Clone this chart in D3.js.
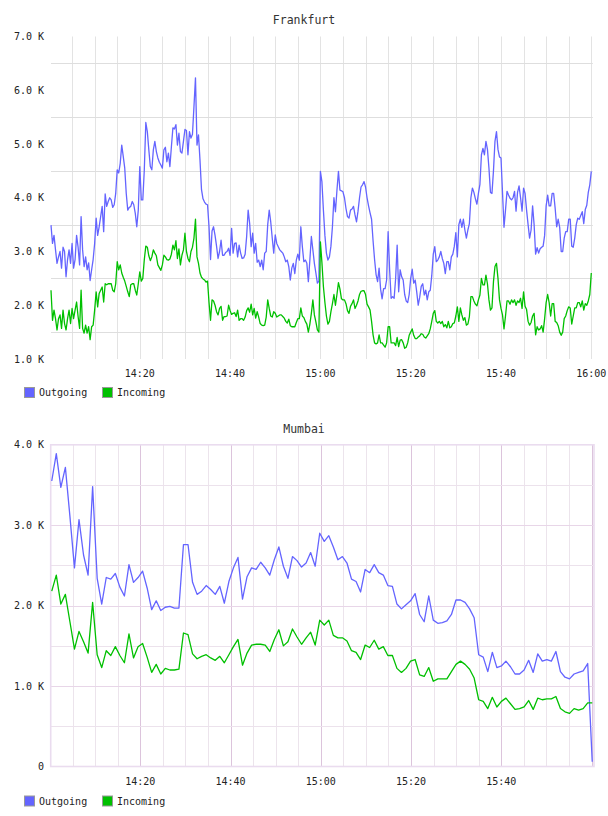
<!DOCTYPE html>
<html><head><meta charset="utf-8">
<script src="https://cdn.jsdelivr.net/npm/d3@7"></script>
<style>
html,body{margin:0;padding:0;background:#fff;}
svg{display:block;}
text{font-family:"DejaVu Sans Mono",monospace;fill:#222;}
</style></head>
<body>
<script>
// ---------------- DATA ----------------
const seriesNames = ["Outgoing", "Incoming"];
const seriesColors = ["#6464ff", "#00c000"];

// Frankfurt: samples every 20 s starting 14:00:20, values in thousands
const frankfurtStart = [14, 0, 20];
const frankfurtStepSec = 20;
const frankfurtOutgoing = [
3.49,3.15,3.3,3.03,2.78,2.9,3.0,2.69,3.08,3.0,
2.53,2.85,3.03,2.78,3.15,2.69,2.85,3.3,3.08,2.75,
3.65,3.03,2.72,2.9,2.66,2.79,2.46,2.66,2.85,3.15,
3.62,3.3,3.46,3.65,3.84,3.37,4.07,3.84,3.93,4.0,
3.96,3.82,3.87,4.08,4.52,4.46,4.64,4.98,4.77,4.55,
4.08,3.77,3.82,3.84,3.93,3.87,3.71,3.46,3.77,4.58,
3.96,3.96,4.52,5.4,5.23,4.89,4.58,4.52,4.89,5.05,
4.86,4.74,4.66,4.61,4.55,4.89,4.94,4.67,4.83,4.58,
4.95,5.3,5.28,5.36,4.98,5.2,4.86,4.83,5.05,5.27,
5.25,4.8,5.23,5.11,5.18,5.7,6.23,4.98,5.17,4.7,
4.15,3.98,3.92,3.88,3.87,3.46,2.85,3.38,3.46,3.3,
3.1,2.87,3.0,3.21,2.93,2.93,2.98,3.0,3.06,2.93,
3.43,2.97,3.15,3.16,2.9,3.12,2.97,2.87,2.88,2.95,
3.28,3.77,3.52,3.09,3.34,2.97,3.15,2.8,2.84,2.72,
2.84,2.66,2.97,3.0,3.5,3.77,3.55,3.25,2.97,3.31,
3.15,3.09,3.03,3.0,2.97,2.9,2.81,2.84,2.72,2.47,
2.69,2.78,2.59,2.84,2.95,2.84,3.46,3.09,2.81,2.84,
2.78,2.44,2.84,3.28,3.03,2.78,2.6,2.41,2.45,4.49,
4.3,3.77,3.3,2.97,2.84,2.9,3.1,3.46,4.0,3.74,
4.14,4.49,4.14,4.13,4.11,4.0,3.8,3.65,3.62,3.77,
3.79,3.84,3.68,3.55,3.75,4.0,4.2,4.24,4.3,4.2,
4.0,3.85,3.72,3.6,3.2,2.85,2.57,2.44,2.69,2.3,
2.12,2.31,2.31,2.47,3.37,2.66,2.13,2.16,2.13,2.5,
3.12,2.25,2.66,2.53,2.47,2.2,2.08,2.05,2.2,2.5,
2.67,2.41,2.47,2.25,2.0,2.15,2.35,2.4,2.19,2.28,
2.1,2.25,2.28,2.55,2.95,3.09,2.81,2.84,2.9,3.0,
2.87,2.78,2.59,2.81,2.81,2.66,2.9,2.95,3.1,3.35,
2.9,3.5,3.6,3.45,3.6,3.4,3.25,3.4,3.52,4.0,
4.18,4.1,3.98,3.88,4.08,4.25,4.8,4.92,4.8,5.05,
4.9,4.55,4.1,4.08,4.5,5.05,5.23,4.9,4.76,4.74,
4.1,3.45,3.77,4.12,4.05,3.99,3.96,4.0,4.12,3.75,
4.1,4.22,4.0,3.75,4.18,4.08,3.77,3.5,3.25,3.4,
3.85,3.5,2.95,3.07,2.97,3.05,3.08,3.1,3.3,3.85,
4.05,3.85,3.85,4.08,4.08,3.8,3.46,3.6,3.45,3.0,
3.0,3.25,3.37,3.37,3.6,3.6,3.1,3.08,3.25,3.5,
3.62,3.6,3.67,3.74,3.52,3.78,3.86,4.1,4.24,4.49];
const frankfurtIncoming = [
2.28,1.72,1.91,1.75,1.54,1.75,1.82,1.57,1.91,1.66,
1.54,1.75,1.91,1.66,1.94,1.75,1.91,2.06,1.79,1.57,
2.28,1.57,1.48,1.63,1.48,1.6,1.36,1.6,1.63,1.91,
2.25,1.97,2.22,2.28,2.34,2.06,2.4,2.38,2.4,2.4,
2.4,2.28,2.25,2.4,2.81,2.66,2.75,2.6,2.52,2.45,
2.35,2.25,2.16,2.38,2.4,2.4,2.28,2.19,2.4,2.62,
2.45,2.5,2.85,3.1,3.08,2.92,2.83,2.9,3.03,2.97,
2.92,2.75,2.7,2.65,2.75,2.93,2.9,2.85,2.84,2.86,
2.95,3.12,3.03,3.2,2.87,3.05,2.75,2.93,3.03,3.34,
3.0,2.87,2.81,3.0,3.08,3.25,3.6,2.9,2.78,2.6,
2.52,2.49,2.47,2.43,2.45,2.05,1.72,2.1,2.08,2.0,
1.88,1.82,1.94,1.98,1.72,1.79,1.79,1.8,2.0,1.9,
1.83,1.85,1.86,1.79,1.91,1.72,1.75,1.75,1.72,1.78,
1.9,1.95,1.87,2.02,1.82,1.94,1.76,1.88,1.78,1.66,
1.63,1.62,1.63,1.78,2.1,1.94,1.8,1.78,1.88,1.85,
1.78,1.8,1.82,1.82,1.79,1.76,1.7,1.67,1.74,1.62,
1.6,1.6,1.6,1.68,1.75,1.75,1.95,1.8,1.77,1.7,
1.65,1.5,1.65,1.85,2.1,1.82,1.69,1.54,1.5,3.18,
2.8,2.35,2.05,1.8,1.65,1.7,1.88,2.03,2.2,2.0,
2.2,2.42,2.3,2.12,2.1,2.1,2.03,1.9,1.85,1.98,
2.03,2.1,1.94,2.0,2.08,2.2,2.26,2.27,2.27,2.2,
2.02,1.97,1.91,1.7,1.45,1.3,1.28,1.3,1.45,1.3,
1.3,1.26,1.22,1.3,1.6,1.6,1.3,1.3,1.3,1.25,
1.4,1.23,1.35,1.36,1.3,1.2,1.22,1.3,1.44,1.5,
1.56,1.44,1.38,1.38,1.41,1.43,1.47,1.46,1.41,1.39,
1.43,1.47,1.56,1.7,1.85,1.9,1.7,1.67,1.7,1.66,
1.7,1.6,1.64,1.58,1.7,1.58,1.6,1.66,1.67,1.8,
1.97,1.7,1.95,1.82,1.72,1.77,1.63,1.65,1.79,2.16,
2.16,2.08,2.02,1.99,2.1,2.19,2.5,2.38,2.38,2.56,
2.4,2.1,1.91,1.95,2.44,2.72,2.78,2.5,2.1,1.94,
1.82,1.56,1.8,2.08,2.08,2.02,2.1,2.05,2.1,2.0,
2.08,2.05,2.13,1.94,2.25,1.98,1.92,1.7,1.63,1.68,
1.8,1.85,1.45,1.6,1.54,1.56,1.62,1.5,1.75,2.05,
2.2,2.05,1.8,2.03,2.03,1.7,1.68,1.62,1.5,1.44,
1.5,1.75,1.8,1.9,1.97,1.95,1.65,1.8,1.95,1.95,
2.05,2.05,1.97,2.08,1.91,2.03,2.0,2.08,2.2,2.6];

// Mumbai: samples about every minute starting 14:00:22, values in thousands
const mumbaiStart = [14, 0, 22];
const mumbaiStepSec = 60.4;
const mumbaiOutgoing = [
3.55,3.89,3.47,3.72,3.11,2.47,3.07,2.63,2.38,3.48,
2.34,2.02,2.35,2.33,2.4,2.23,2.12,2.51,2.29,2.35,
2.43,2.22,1.95,2.06,1.94,1.98,1.99,1.97,1.97,2.76,
2.76,2.29,2.14,2.18,2.25,2.2,2.14,2.24,2.03,2.3,
2.47,2.6,2.08,2.36,2.47,2.45,2.54,2.47,2.38,2.57,
2.73,2.49,2.34,2.61,2.56,2.48,2.53,2.66,2.49,2.9,
2.8,2.87,2.73,2.57,2.61,2.53,2.33,2.3,2.17,2.45,
2.41,2.51,2.41,2.38,2.25,2.24,2.02,1.96,2.01,2.06,
2.15,1.89,1.8,2.12,1.82,1.78,1.79,1.81,1.89,2.07,
2.07,2.04,1.96,1.85,1.39,1.36,1.18,1.42,1.23,1.25,
1.31,1.24,1.15,1.15,1.2,1.32,1.17,1.4,1.31,1.33,
1.31,1.43,1.18,1.11,1.09,1.15,1.17,1.19,1.28,0.06];
const mumbaiIncoming = [
2.18,2.38,2.02,2.14,1.8,1.46,1.68,1.55,1.41,2.04,
1.39,1.23,1.44,1.38,1.49,1.38,1.29,1.65,1.35,1.49,
1.53,1.36,1.17,1.27,1.15,1.22,1.2,1.2,1.21,1.66,
1.64,1.4,1.34,1.37,1.39,1.35,1.32,1.37,1.29,1.39,
1.49,1.58,1.26,1.41,1.51,1.52,1.52,1.51,1.43,1.58,
1.7,1.5,1.55,1.71,1.61,1.52,1.6,1.67,1.51,1.82,
1.76,1.82,1.63,1.6,1.6,1.56,1.44,1.42,1.33,1.51,
1.48,1.57,1.46,1.49,1.38,1.38,1.22,1.17,1.22,1.31,
1.33,1.14,1.12,1.23,1.06,1.09,1.09,1.09,1.18,1.27,
1.31,1.27,1.21,1.1,0.83,0.81,0.72,0.86,0.74,0.81,
0.85,0.78,0.71,0.72,0.74,0.82,0.71,0.85,0.83,0.84,
0.84,0.87,0.72,0.68,0.66,0.72,0.7,0.72,0.79,0.79];

// Axis ticks
const frankfurtYTicks = [1, 2, 3, 4, 5, 6, 7];
const frankfurtYTickLabels = ["1.0 K","2.0 K","3.0 K","4.0 K","5.0 K","6.0 K","7.0 K"];
const frankfurtYGrid = [1.5, 2.5, 3.5, 4.5, 5.5, 6.5];
const mumbaiYTicks = [0, 1, 2, 3, 4];
const mumbaiYTickLabels = ["0","1.0 K","2.0 K","3.0 K","4.0 K"];
const mumbaiYGrid = [0.5, 1, 1.5, 2, 2.5, 3, 3.5];
const frankfurtXLabels = ["14:20","14:40","15:00","15:20","15:40","16:00"];
const mumbaiXLabels = ["14:20","14:40","15:00","15:20","15:40"];

// ---------------- DRAW ----------------
const W = 608, H = 816;
const svg = d3.select("body").append("svg").attr("width", W).attr("height", H);
const day = (h, m, s) => new Date(2020, 0, 1, h, m, s);
const parseHM = s => { const [h, m] = s.split(":").map(Number); return day(h, m, 0); };

function buildSeries(start, stepSec, vals) {
  const t0 = day(start[0], start[1], start[2]).getTime();
  return vals.map((v, i) => ({ t: new Date(t0 + i * stepSec * 1000), v }));
}

function drawChart(cfg) {
  const g = svg.append("g");
  const x = d3.scaleTime().domain(cfg.xDomain).range(cfg.xRange);
  const y = d3.scaleLinear().domain(cfg.yDomain).range(cfg.yRange);
  const [x0, x1] = cfg.xRange, [yb, yt] = cfg.yRange;

  // title
  g.append("text").attr("x", cfg.titleX).attr("y", cfg.titleY)
    .attr("text-anchor", "middle").attr("dominant-baseline", "central")
    .style("font-size", "11.5px").style("fill", "#333").text(cfg.title);

  // minor vertical grid (5 min)
  const minor = x.ticks(d3.timeMinute.every(5));
  g.selectAll(null).data(minor).join("line")
    .attr("x1", d => Math.round(x(d)) + 0.5).attr("x2", d => Math.round(x(d)) + 0.5)
    .attr("y1", yt).attr("y2", yb)
    .attr("stroke", d => (cfg.majorColor && d.getMinutes() % 20 === 0) ? cfg.majorColor : cfg.vGridColor)
    .attr("stroke-width", 1);

  // horizontal grid
  g.selectAll(null).data(cfg.yGrid).join("line")
    .attr("x1", x0).attr("x2", x1)
    .attr("y1", d => Math.round(y(d)) + 0.5).attr("y2", d => Math.round(y(d)) + 0.5)
    .attr("stroke", d => (cfg.hMajorColor && Number.isInteger(d)) ? cfg.hMajorColor : cfg.hGridColor)
    .attr("stroke-width", 1);

  if (cfg.border) {
    g.append("rect").attr("x", x0).attr("y", yt).attr("width", x1 - x0).attr("height", yb - yt)
      .attr("fill", "none").attr("stroke", cfg.border).attr("stroke-width", 1.6);
  }

  // y labels
  g.selectAll(null).data(cfg.yTicks).join("text")
    .attr("x", 44).attr("y", d => y(d))
    .attr("text-anchor", "end").attr("dominant-baseline", "central")
    .style("font-size", "10px").text((d, i) => cfg.yTickLabels[i]);

  // x labels
  g.selectAll(null).data(cfg.xLabels).join("text")
    .attr("x", d => x(parseHM(d))).attr("y", cfg.xLabelY)
    .attr("text-anchor", "middle").attr("dominant-baseline", "central")
    .style("font-size", "10px").text(d => d);

  // lines
  const line = d3.line().x(d => x(d.t)).y(d => y(d.v));
  cfg.series.forEach((s, i) => {
    g.append("path").datum(s).attr("fill", "none")
      .attr("stroke", seriesColors[i]).attr("stroke-width", 1.3)
      .attr("stroke-linejoin", "round").attr("d", line);
  });

  // legend
  const legX = [24, 102];
  seriesNames.forEach((n, i) => {
    g.append("rect").attr("x", legX[i] + 0.5).attr("y", cfg.legendY - 5 + 0.5)
      .attr("width", 10).attr("height", 10)
      .attr("fill", seriesColors[i]).attr("stroke", "#999").attr("stroke-width", 1);
    g.append("text").attr("x", legX[i] + 15).attr("y", cfg.legendY + 0.5)
      .attr("dominant-baseline", "central").style("font-size", "10px").text(n);
  });
}

drawChart({
  title: "Frankfurt", titleX: 304, titleY: 20,
  xDomain: [day(14, 0, 20), day(16, 0, 20)], xRange: [51, 592.8],
  yDomain: [1, 7], yRange: [359, 36.5],
  yGrid: frankfurtYGrid, yTicks: frankfurtYTicks, yTickLabels: frankfurtYTickLabels,
  xLabels: frankfurtXLabels, xLabelY: 373.5,
  vGridColor: "#e3e3e3", hGridColor: "#dedede",
  series: [buildSeries(frankfurtStart, frankfurtStepSec, frankfurtOutgoing),
           buildSeries(frankfurtStart, frankfurtStepSec, frankfurtIncoming)],
  legendY: 392
});

drawChart({
  title: "Mumbai", titleX: 304, titleY: 429,
  xDomain: [day(14, 0, 8), day(16, 0, 33)], xRange: [50.7, 594],
  yDomain: [0, 4], yRange: [766.5, 444.8],
  yGrid: mumbaiYGrid, yTicks: mumbaiYTicks, yTickLabels: mumbaiYTickLabels,
  xLabels: mumbaiXLabels, xLabelY: 781.5,
  vGridColor: "#ece4ec", majorColor: "#dcc4dc", hGridColor: "#ece2ec", hMajorColor: "#e8d6e8",
  border: "#eadcef",
  series: [buildSeries(mumbaiStart, mumbaiStepSec, mumbaiOutgoing),
           buildSeries(mumbaiStart, mumbaiStepSec, mumbaiIncoming)],
  legendY: 800.5
});
</script>
</body></html>
